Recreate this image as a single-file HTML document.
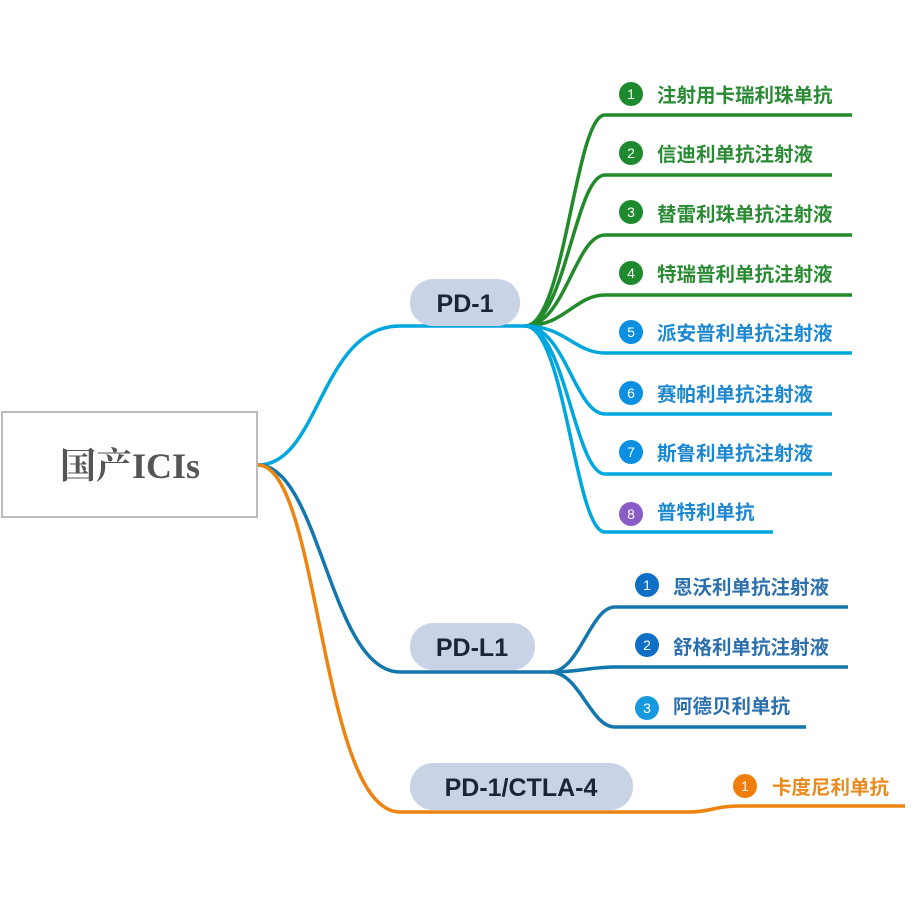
<!DOCTYPE html>
<html><head><meta charset="utf-8"><style>
html,body{margin:0;padding:0;background:#fff;}
svg{display:block}
.l{font-family:"Liberation Sans","Noto Sans CJK SC",sans-serif;font-weight:bold;font-size:19.5px}
.p{font-family:"Liberation Sans","Noto Sans CJK SC",sans-serif;font-weight:bold;font-size:25px;fill:#1c2438}
.n{font-family:"Liberation Sans",sans-serif;font-size:14px;fill:#fff;text-anchor:middle}
</style></head><body>
<svg width="914" height="914" viewBox="0 0 914 914" xmlns="http://www.w3.org/2000/svg">
<rect x="2" y="412" width="255" height="105" fill="#fff" stroke="#bbb" stroke-width="2"/>
<text x="130" y="478" text-anchor="middle" font-family="Liberation Serif,'Noto Serif CJK SC',serif" font-weight="bold" font-size="36" fill="#555">国产ICIs</text>
<g fill="none" stroke-width="3.5">
<path d="M258,465 C320,465 320,326 400,326 L525,326" stroke="#00a6de"/>
<path d="M258,465 C320,465 330,672 400,672 L550,672" stroke="#1377ad"/>
<path d="M258,465 C320,465 320,812 400,812 L690,812 C710,812 715,806 740,806 L905,806" stroke="#ee8410"/>
<g stroke="#238a2b">
<path d="M525,326 C565,326 575,115 605,115 L852,115"/>
<path d="M525,326 C565,326 575,175 605,175 L832,175"/>
<path d="M525,326 C565,326 575,235 605,235 L852,235"/>
<path d="M525,326 C565,326 575,295 605,295 L852,295"/>
</g>
<g stroke="#00a6de">
<path d="M525,326 C565,326 575,353 605,353 L852,353"/>
<path d="M525,326 C565,326 575,414 605,414 L832,414"/>
<path d="M525,326 C565,326 575,474 605,474 L832,474"/>
<path d="M525,326 C565,326 575,532 605,532 L773,532"/>
</g>
<g stroke="#1377ad">
<path d="M550,672 C580,672 590,607 615,607 L848,607"/>
<path d="M550,672 C580,672 590,667 615,667 L848,667"/>
<path d="M550,672 C580,672 590,727 615,727 L806,727"/>
</g>
</g>
<rect x="410" y="279" width="110" height="47" rx="23" fill="#c8d3e6"/>
<text x="465" y="312" text-anchor="middle" class="p">PD-1</text>
<rect x="410" y="623" width="125" height="47" rx="23" fill="#c8d3e6"/>
<text x="472" y="656" text-anchor="middle" class="p">PD-L1</text>
<rect x="410" y="763" width="223" height="47" rx="23" fill="#c8d3e6"/>
<text x="521" y="796" text-anchor="middle" class="p">PD-1/CTLA-4</text>
<g>
<circle cx="631" cy="94" r="12" fill="#1e8a2e"/><text x="631" y="99" class="n">1</text><text x="657" y="102" class="l" fill="#2a8a33">注射用卡瑞利珠单抗</text>
<circle cx="631" cy="153" r="12" fill="#1e8a2e"/><text x="631" y="158" class="n">2</text><text x="657" y="161" class="l" fill="#2a8a33">信迪利单抗注射液</text>
<circle cx="631" cy="212" r="12" fill="#1e8a2e"/><text x="631" y="217" class="n">3</text><text x="657" y="221" class="l" fill="#2a8a33">替雷利珠单抗注射液</text>
<circle cx="631" cy="273" r="12" fill="#1e8a2e"/><text x="631" y="278" class="n">4</text><text x="657" y="281" class="l" fill="#2a8a33">特瑞普利单抗注射液</text>
<circle cx="631" cy="332" r="12" fill="#0b8fe0"/><text x="631" y="337" class="n">5</text><text x="657" y="340" class="l" fill="#1a87cf">派安普利单抗注射液</text>
<circle cx="631" cy="393" r="12" fill="#0b8fe0"/><text x="631" y="398" class="n">6</text><text x="657" y="401" class="l" fill="#1a87cf">赛帕利单抗注射液</text>
<circle cx="631" cy="452" r="12" fill="#0b8fe0"/><text x="631" y="457" class="n">7</text><text x="657" y="460" class="l" fill="#1a87cf">斯鲁利单抗注射液</text>
<circle cx="631" cy="514" r="12" fill="#8a5cc8"/><text x="631" y="519" class="n">8</text><text x="657" y="519" class="l" fill="#1a87cf">普特利单抗</text>
<circle cx="647" cy="585" r="12" fill="#0e6fc4"/><text x="647" y="590" class="n">1</text><text x="673" y="594" class="l" fill="#2b6fad">恩沃利单抗注射液</text>
<circle cx="647" cy="645" r="12" fill="#0e6fc4"/><text x="647" y="650" class="n">2</text><text x="673" y="654" class="l" fill="#2b6fad">舒格利单抗注射液</text>
<circle cx="647" cy="708" r="12" fill="#1799e0"/><text x="647" y="713" class="n">3</text><text x="673" y="713" class="l" fill="#2b6fad">阿德贝利单抗</text>
<circle cx="745" cy="786" r="12" fill="#f07d0a"/><text x="745" y="791" class="n">1</text><text x="772" y="794" class="l" fill="#ea8a1c">卡度尼利单抗</text>
</g>
</svg>
</body></html>
